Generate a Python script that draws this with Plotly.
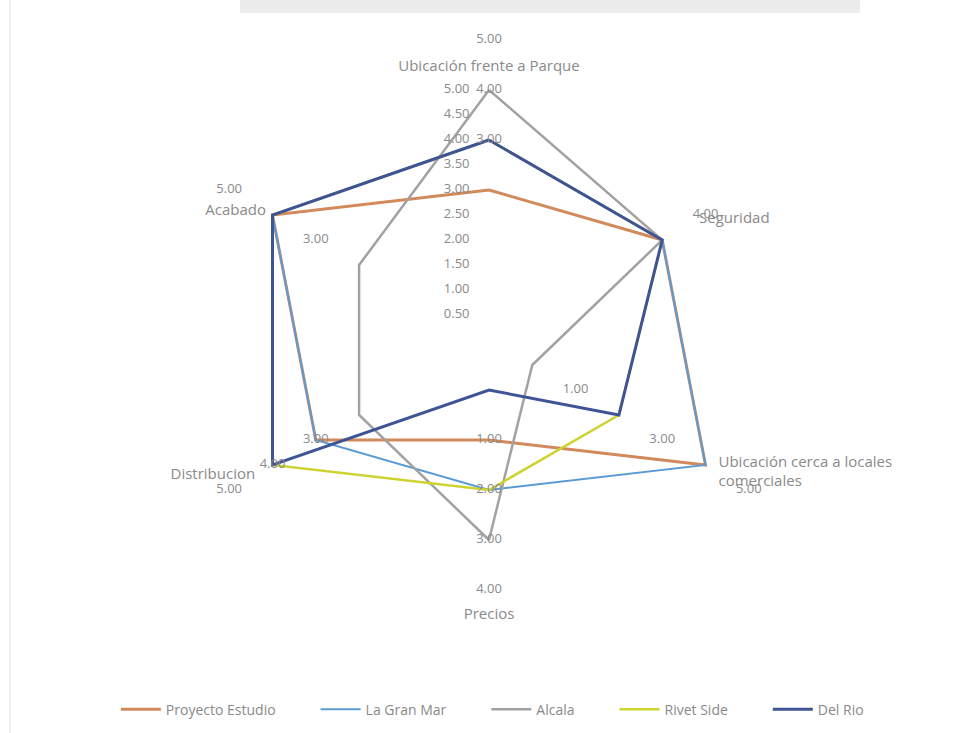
import plotly.graph_objects as go

# Criteria (clockwise from the top)
categories = [
    "Ubicación frente a Parque",
    "Seguridad",
    "Ubicación cerca a locales<br>comerciales",
    "Precios",
    "Distribucion",
    "Acabado",
]

# Scores per project
proyecto_estudio = [3, 4, 5, 2, 4, 5]
la_gran_mar = [4, 4, 5, 3, 4, 5]
alcala = [5, 4, 1, 4, 3, 3]
river_side = [4, 4, 3, 3, 5, 5]
del_rio = [4, 4, 3, 1, 5, 5]

series_names = ["Proyecto Estudio", "La Gran Mar", "Alcala", "Rivet Side", "Del Rio"]
series_values = [proyecto_estudio, la_gran_mar, alcala, river_side, del_rio]
series_colors = ["#D2895C", "#5B9BD5", "#A2A2A2", "#CDD32E", "#3E5495"]
series_widths = [3, 2, 2.5, 2.5, 3]

# Radial scale ticks
radial_ticks = [0, 0.5, 1, 1.5, 2, 2.5, 3, 3.5, 4, 4.5, 5]
radial_labels = ["-"] + [f"{v:.2f}" for v in radial_ticks[1:]]
scale_max = 5

# Data labels sit one unit outside the point they describe
label_offset = 1

GREY_TEXT = "#8a8a8a"
FONT = "Open Sans"
PAD = "\u2003\u2002"          # gap between the scale labels and the spoke
LEGEND_PAD = "\u2002" * 5      # extra room between legend entries

# Where each criterion name sits (radius in score units, text anchor)
cat_label_r = [5.45, 4.85, 5.3, 5.5, 5.4, 5.15]
cat_label_pos = ["middle center", "middle right", "middle right",
                 "middle center", "middle left", "middle left"]

fig = go.Figure()

for name, vals, col, w in zip(series_names, series_values, series_colors, series_widths):
    fig.add_trace(go.Scatterpolar(
        r=vals + vals[:1],
        theta=categories + categories[:1],
        mode="lines",
        name=name + LEGEND_PAD,
        line=dict(color=col, width=w),
        hoverinfo="skip",
    ))

# Radial scale labels along the top spoke
fig.add_trace(go.Scatterpolar(
    r=radial_ticks,
    theta=[categories[0]] * len(radial_ticks),
    mode="text",
    text=[t + PAD for t in radial_labels],
    textposition="middle left",
    textfont=dict(family=FONT, size=13, color=GREY_TEXT),
    showlegend=False,
    cliponaxis=False,
    hoverinfo="skip",
))

# One value label per distinct value on each criterion
lab_r, lab_theta, lab_text = [], [], []
for i, cat in enumerate(categories):
    for v in sorted({vals[i] for vals in series_values}):
        lab_r.append(v + label_offset)
        lab_theta.append(cat)
        lab_text.append(f"{v:.2f}")

fig.add_trace(go.Scatterpolar(
    r=lab_r,
    theta=lab_theta,
    mode="text",
    text=lab_text,
    textposition="middle center",
    textfont=dict(family=FONT, size=13, color=GREY_TEXT),
    showlegend=False,
    cliponaxis=False,
    hoverinfo="skip",
))

# Criterion names
fig.add_trace(go.Scatterpolar(
    r=cat_label_r,
    theta=categories,
    mode="text",
    text=categories,
    textposition=cat_label_pos,
    textfont=dict(family=FONT, size=15, color=GREY_TEXT),
    showlegend=False,
    cliponaxis=False,
    hoverinfo="skip",
))

W, H = 953, 733
cx, cy, unit = 489, 340, 50          # centre and pixels per score unit
r_max = scale_max + label_offset      # room for the outer value labels
rad = unit * r_max

fig.update_layout(
    width=W,
    height=H,
    margin=dict(l=0, r=0, t=0, b=0),
    paper_bgcolor="white",
    plot_bgcolor="white",
    font=dict(family=FONT, size=13, color=GREY_TEXT),
    polar=dict(
        domain=dict(
            x=[(cx - rad) / W, (cx + rad) / W],
            y=[1 - (cy + rad) / H, 1 - (cy - rad) / H],
        ),
        bgcolor="rgba(0,0,0,0)",
        gridshape="linear",
        radialaxis=dict(
            range=[0, r_max],
            angle=90,
            showticklabels=False,
            showline=False,
            ticks="",
            showgrid=False,
        ),
        angularaxis=dict(
            rotation=90,
            direction="clockwise",
            categoryorder="array",
            categoryarray=categories,
            showline=False,
            showgrid=False,
            showticklabels=False,
            ticks="",
        ),
    ),
    legend=dict(
        orientation="h",
        x=0.535,
        xanchor="center",
        y=0.032,
        yanchor="middle",
        font=dict(family=FONT, size=14, color=GREY_TEXT),
        itemwidth=40,
        tracegroupgap=0,
    ),
    shapes=[
        dict(type="rect", xref="paper", yref="paper",
             x0=240 / W, x1=860 / W, y0=1 - 13 / H, y1=1,
             fillcolor="#ececec", line=dict(width=0), layer="below"),
        dict(type="line", xref="paper", yref="paper",
             x0=10 / W, x1=10 / W, y0=0, y1=1,
             line=dict(color="#e2e2e2", width=1)),
    ],
)

fig.write_html("out.html")
